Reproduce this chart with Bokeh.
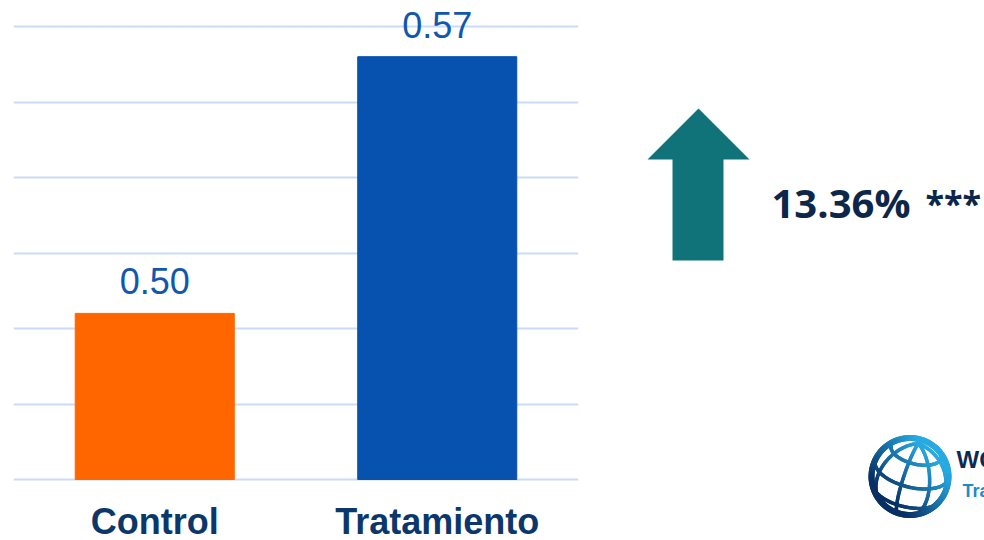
import numpy as np
from bokeh.plotting import figure
from bokeh.layouts import row
from bokeh.models import FactorRange, Range1d, FixedTicker, ColumnDataSource
from bokeh.core.properties import value
from bokeh.embed import file_html
from bokeh.resources import INLINE

# ---- data ----
categories = ["Control", "Tratamiento"]
means = [0.504, 0.572]
bar_colors = ["#FF6600", "#0652AE"]
grid_ticks = [0.46, 0.48, 0.50, 0.52, 0.54, 0.56, 0.58]
effect_value = "13.36%"
effect_stars = "***"

labels = ["%.2f" % v for v in means]
y0 = grid_ticks[0]
px = (grid_ticks[-1] - grid_ticks[0]) / 453.0   # value per pixel

src = ColumnDataSource(dict(cat=categories, val=means, color=bar_colors, lab=labels,
                            cy=[y0 - 42 * px] * len(categories)))

p = figure(width=590, height=540, x_range=FactorRange(factors=categories),
           y_range=Range1d(y0 - 61 * px, y0 + 479 * px),
           output_backend="svg", toolbar_location=None,
           min_border_left=13, min_border_right=12, min_border_top=0, min_border_bottom=0)
p.outline_line_color = None
p.background_fill_color = "white"
p.border_fill_color = "white"

p.vbar(x="cat", top="val", bottom=y0, width=0.563, color="color", source=src)
p.text(x="cat", y="val", text="lab", source=src, y_offset=-32,
       text_align="center", text_baseline="alphabetic",
       text_font=value("Liberation Sans"), text_font_size="36px", text_color="#1157AE")
# category labels (below the baseline)
p.text(x="cat", y="cy", text="cat", source=src,
       text_align="center", text_baseline="alphabetic",
       text_font=value("Liberation Sans"), text_font_style="bold", text_font_size="36px",
       text_color="#0B376B")

p.xgrid.grid_line_color = None
p.ygrid.ticker = FixedTicker(ticks=grid_ticks)
p.ygrid.grid_line_color = "#C8DDF5"
p.ygrid.grid_line_width = 2
p.xaxis.visible = False
p.yaxis.visible = False

# ---- right panel: arrow, effect text, logo ----
q = figure(width=394, height=540, x_range=Range1d(590, 984), y_range=Range1d(540, 0),
           output_backend="svg", toolbar_location=None, min_border=0)
q.outline_line_color = None
q.xaxis.visible = False
q.yaxis.visible = False
q.grid.visible = False
q.background_fill_color = "white"
q.border_fill_color = "white"

arrow_x = [698, 749, 723, 723, 672, 672, 647]
arrow_y = [108, 159, 159, 260, 260, 159, 159]
q.patch(arrow_x, arrow_y, color="#10737A", line_width=0)

q.text(x=[771], y=[202], text=[effect_value], text_align="left", text_baseline="alphabetic",
       text_font=value("Open Sans"), text_font_style="bold", text_font_size="40px",
       text_color="#0C2749")
q.text(x=[925], y=[202], text=[effect_stars], text_align="left", text_baseline="alphabetic",
       text_font=value("Open Sans"), text_font_style="bold", text_font_size="34px",
       text_color="#0C2749")

# globe logo (orthographic projection of a tilted sphere grid)
cx, cy, r = 909.5, 476.0, 38.5
dark = np.array([8, 48, 100])
light = np.array([40, 170, 225])


def shade(sx, sy):
    t = ((sx - cx) - (sy - cy)) / (2.0 * r) * 0.9 + 0.5
    t = min(max(t, 0.0), 1.0)
    c = dark + (light - dark) * t
    return "#%02x%02x%02x" % tuple(int(v) for v in c)


def project(lat, lon, tilt=np.deg2rad(28), roll=np.deg2rad(-14)):
    x = np.cos(lat) * np.sin(lon)
    y = np.sin(lat)
    z = np.cos(lat) * np.cos(lon)
    y2 = y * np.cos(tilt) - z * np.sin(tilt)
    z2 = y * np.sin(tilt) + z * np.cos(tilt)
    x3 = x * np.cos(roll) - y2 * np.sin(roll)
    y3 = x * np.sin(roll) + y2 * np.cos(roll)
    return cx + r * x3, cy - r * y3, z2


seg_xs, seg_ys, seg_cols, seg_w = [], [], [], []


def add_curve(sx, sy, vis, w):
    for i in range(len(sx) - 1):
        if vis[i] and vis[i + 1]:
            seg_xs.append([sx[i], sx[i + 1]])
            seg_ys.append([sy[i], sy[i + 1]])
            seg_cols.append(shade((sx[i] + sx[i + 1]) / 2, (sy[i] + sy[i + 1]) / 2))
            seg_w.append(w)


tt = np.linspace(-np.pi / 2, np.pi / 2, 60)
for lon_deg in [-55, -10, 35, 75]:
    sx, sy, z = project(tt, np.full_like(tt, np.deg2rad(lon_deg)))
    add_curve(sx, sy, z > -0.02, 3.5)
ll = np.linspace(-np.pi, np.pi, 120)
for lat_deg in [48, 12, -25]:
    sx, sy, z = project(np.full_like(ll, np.deg2rad(lat_deg)), ll)
    add_curve(sx, sy, z > -0.02, 3.5)
ang = np.linspace(0, 2 * np.pi, 121)
add_curve(cx + r * np.cos(ang), cy - r * np.sin(ang), np.ones_like(ang, dtype=bool), 6)

q.multi_line(xs=seg_xs, ys=seg_ys, line_color=seg_cols, line_width=seg_w, line_cap="round")

q.text(x=[956], y=[459], text=["WORLD BANK"], text_align="left", text_baseline="alphabetic",
       text_font=value("Liberation Sans"), text_font_style="bold", text_font_size="24px",
       text_color="#0B2A55")
q.text(x=[962], y=[490], text=["Trabajando por un mundo sin pobreza"], text_align="left",
       text_baseline="alphabetic",
       text_font=value("Liberation Sans"), text_font_style="bold", text_font_size="18px",
       text_color="#1C8CC8")

layout = row(p, q)
open("out.html", "w").write(file_html(layout, INLINE))
